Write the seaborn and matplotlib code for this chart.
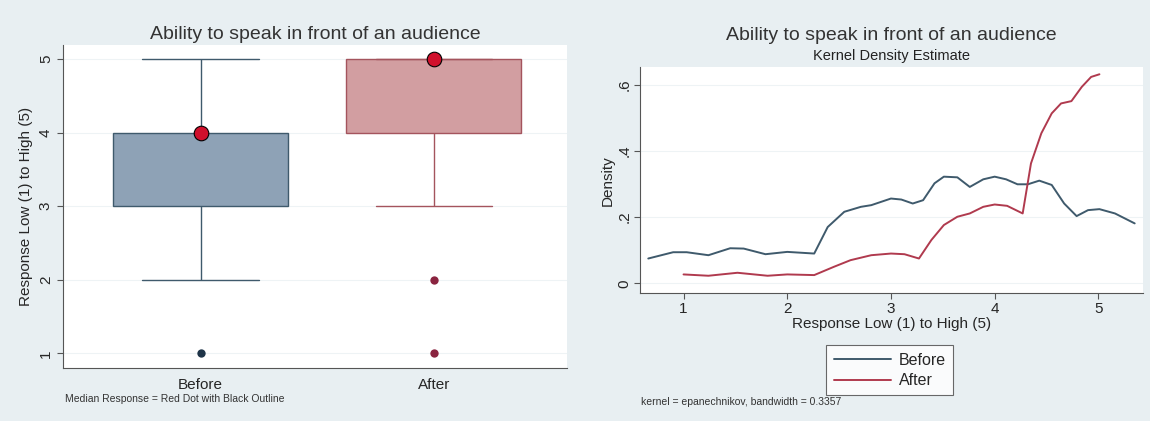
import pandas as pd
import seaborn as sns
import matplotlib.pyplot as plt

# responses (1-5) before / after
before_resp = [1, 2, 2, 3, 3, 3, 3, 4, 4, 4, 4, 4, 4, 5, 5, 5, 5]
after_resp = [1, 2, 3, 3, 4, 4, 4, 4, 5, 5, 5, 5, 5, 5, 5, 5, 5]
groups = ["Before", "After"]

# kernel density curves
before_x = [0.66, 0.90, 1.03, 1.24, 1.45, 1.58, 1.79, 2.00, 2.26, 2.39, 2.55, 2.71,
            2.81, 3.00, 3.10, 3.21, 3.31, 3.42, 3.51, 3.64, 3.76, 3.89, 4.00, 4.11,
            4.22, 4.32, 4.43, 4.55, 4.67, 4.79, 4.90, 5.01, 5.16, 5.35]
before_d = [0.075, 0.094, 0.094, 0.085, 0.106, 0.105, 0.088, 0.095, 0.090, 0.170, 0.216, 0.231,
            0.236, 0.256, 0.253, 0.241, 0.251, 0.302, 0.322, 0.320, 0.291, 0.314, 0.322, 0.314,
            0.299, 0.299, 0.310, 0.297, 0.241, 0.203, 0.221, 0.224, 0.211, 0.181]
after_x = [1.00, 1.24, 1.52, 1.81, 2.00, 2.26, 2.45, 2.61, 2.81, 3.00, 3.13, 3.27,
           3.39, 3.51, 3.64, 3.76, 3.89, 4.00, 4.12, 4.27, 4.35, 4.45, 4.55, 4.64,
           4.74, 4.84, 4.93, 5.01]
after_d = [0.027, 0.023, 0.032, 0.023, 0.027, 0.025, 0.050, 0.070, 0.085, 0.090, 0.088, 0.075,
           0.131, 0.176, 0.201, 0.211, 0.231, 0.238, 0.234, 0.211, 0.362, 0.453, 0.513, 0.543,
           0.550, 0.593, 0.623, 0.631]

bg = "#e8eff2"
c_before = "#3f5a6c"
c_after = "#b03a4e"
fill_before = "#8ea2b6"
fill_after = "#d29ea1"

sns.set_style("white")
plt.rcParams["font.family"] = ["Liberation Sans", "DejaVu Sans"]

fig = plt.figure(figsize=(11.5, 4.21), dpi=100, facecolor=bg)
ax1 = fig.add_axes([0.0551, 0.1259, 0.4379, 0.7671])
ax2 = fig.add_axes([0.5565, 0.3033, 0.4374, 0.5376])

# ---- left: box plot ----
box_df = pd.DataFrame({
    "group": ["Before"] * len(before_resp) + ["After"] * len(after_resp),
    "resp": before_resp + after_resp,
})
sns.boxplot(data=box_df, x="group", y="resp", order=groups, hue="group",
            palette={"Before": fill_before, "After": fill_after}, legend=False,
            width=0.75, whis=1.5, saturation=1, linewidth=1.0,
            showcaps=True, ax=ax1,
            flierprops=dict(marker="o", markersize=6, markeredgewidth=0))
# edge colours per group
edge_cols = [c_before, "#a4545d"]
for i, patch in enumerate(ax1.patches):
    patch.set_edgecolor(edge_cols[i])
lines = ax1.lines
per = len(lines) // 2
for i in range(2):
    grp = lines[i * per:(i + 1) * per]
    for ln in grp:
        ln.set_color(edge_cols[i])
        ln.set_markerfacecolor(["#1e3448", "#8a2440"][i])
    # wider caps, like Stata
    for cap in grp[2:4]:
        cap.set_xdata([i - 0.25, i + 0.25])
    # hide median line, replaced by dot
    grp[4].set_visible(False)

medians = box_df.groupby("group")["resp"].median().reindex(groups)
sns.scatterplot(x=list(range(2)), y=medians.values, color="#d0102c", edgecolor="black",
                linewidth=0.8, s=110, zorder=5, ax=ax1)

ax1.set_xlim(-0.588, 1.57)
ax1.set_ylim(0.8, 5.19)
ax1.set_yticks([1, 2, 3, 4, 5])
ax1.set_yticklabels(["1", "2", "3", "4", "5"], rotation=90, va="center")
ax1.set_xlabel("")
ax1.set_ylabel("Response Low (1) to High (5)", fontsize=11)
ax1.set_title("Ability to speak in front of an audience", fontsize=14, color="#333333", pad=4)
ax1.tick_params(axis="both", labelsize=11, length=4, color="#555555", left=True)
for y in [1, 2, 3, 4, 5]:
    ax1.axhline(y, color="#eef3f5", lw=0.8, zorder=0)
sns.despine(ax=ax1, top=True, right=True)
for s in ["left", "bottom"]:
    ax1.spines[s].set_color("#555555")
fig.text(0.0565, 0.045, "Median Response = Red Dot with Black Outline", fontsize=7.5, color="#333333")

# ---- right: kernel density ----
kde_df = pd.concat([
    pd.DataFrame({"x": before_x, "d": before_d, "g": "Before"}),
    pd.DataFrame({"x": after_x, "d": after_d, "g": "After"}),
])
sns.lineplot(data=kde_df, x="x", y="d", hue="g", hue_order=groups,
             palette={"Before": c_before, "After": c_after}, lw=1.4,
             sort=False, estimator=None, ax=ax2)
ax2.set_xlim(0.58, 5.43)
ax2.set_ylim(-0.03, 0.653)
ax2.set_xticks([1, 2, 3, 4, 5])
ax2.set_yticks([0, 0.2, 0.4, 0.6])
ax2.set_yticklabels(["0", ".2", ".4", ".6"], rotation=90, va="center")
ax2.tick_params(axis="both", labelsize=11, length=4, color="#555555", left=True, bottom=True,
                pad=2)
ax2.set_xlabel("Response Low (1) to High (5)", fontsize=11, labelpad=1)
ax2.set_ylabel("Density", fontsize=11, labelpad=2)
for y in [0, 0.2, 0.4, 0.6]:
    ax2.axhline(y, color="#eef3f5", lw=0.8, zorder=0)
sns.despine(ax=ax2, top=True, right=True)
for s in ["left", "bottom"]:
    ax2.spines[s].set_color("#555555")
fig.text(0.775, 0.905, "Ability to speak in front of an audience", fontsize=14,
         color="#333333", ha="center")
fig.text(0.775, 0.857, "Kernel Density Estimate", fontsize=10.5, color="#222222", ha="center")
leg = ax2.legend(loc="upper center", bbox_to_anchor=(0.497, -0.195), frameon=True,
                 fontsize=11.5, fancybox=False, handlelength=3.6, borderpad=0.45,
                 labelspacing=0.35, handletextpad=0.5)
leg.get_frame().set_edgecolor("#444444")
leg.get_frame().set_linewidth(0.8)
fig.text(0.557, 0.038, "kernel = epanechnikov, bandwidth = 0.3357", fontsize=7.5, color="#333333")

fig.savefig("out.png", dpi=100, facecolor=bg)
